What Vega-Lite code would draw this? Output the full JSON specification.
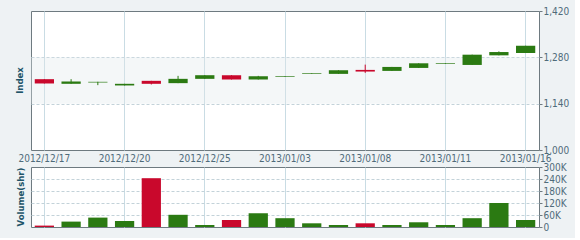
{
  "$schema": "https://vega.github.io/schema/vega-lite/v6.json",
  "background": "#eef2f4",
  "padding": {"left": 14, "top": 5, "right": 5, "bottom": 5},
  "spacing": -3,
  "datasets": {
    "k": [
      {"d": "2012/12/17", "o": 1214, "h": 1214, "l": 1201, "c": 1201, "v": 7000},
      {"d": "2012/12/18", "o": 1200, "h": 1214, "l": 1200, "c": 1207, "v": 27000},
      {"d": "2012/12/19", "o": 1204, "h": 1206, "l": 1196, "c": 1206, "v": 47000},
      {"d": "2012/12/20", "o": 1195, "h": 1200, "l": 1195, "c": 1200, "v": 30000},
      {"d": "2012/12/21", "o": 1209, "h": 1209, "l": 1198, "c": 1200, "v": 244000},
      {"d": "2012/12/24", "o": 1202, "h": 1224, "l": 1202, "c": 1215, "v": 61000},
      {"d": "2012/12/25", "o": 1215, "h": 1226, "l": 1215, "c": 1226, "v": 10000},
      {"d": "2012/12/26", "o": 1226, "h": 1226, "l": 1213, "c": 1213, "v": 35000},
      {"d": "2012/12/27", "o": 1213, "h": 1224, "l": 1213, "c": 1223, "v": 69000},
      {"d": "2013/01/03", "o": 1221, "h": 1223, "l": 1221, "c": 1223, "v": 44000},
      {"d": "2013/01/04", "o": 1230, "h": 1232, "l": 1230, "c": 1232, "v": 18500},
      {"d": "2013/01/07", "o": 1230, "h": 1241, "l": 1230, "c": 1241, "v": 10000},
      {"d": "2013/01/08", "o": 1242, "h": 1258, "l": 1233, "c": 1237, "v": 18500},
      {"d": "2013/01/09", "o": 1239, "h": 1251, "l": 1239, "c": 1251, "v": 10000},
      {"d": "2013/01/10", "o": 1248, "h": 1262, "l": 1248, "c": 1262, "v": 23600},
      {"d": "2013/01/11", "o": 1260, "h": 1262, "l": 1260, "c": 1262, "v": 10000},
      {"d": "2013/01/14", "o": 1257, "h": 1288, "l": 1257, "c": 1288, "v": 44000},
      {"d": "2013/01/15", "o": 1286, "h": 1298, "l": 1286, "c": 1296, "v": 120000},
      {"d": "2013/01/16", "o": 1293, "h": 1315, "l": 1293, "c": 1315, "v": 35000}
    ],
    "band": [{"lo": 1140, "hi": 1280}]
  },
  "config": {
    "view": {"stroke": "#6e7a80", "strokeWidth": 1, "fill": "#ffffff"},
    "font": "DejaVu Sans Condensed",
    "axis": {
      "labelFont": "DejaVu Sans Condensed",
      "labelFontSize": 10,
      "labelColor": "#4f6b7a",
      "domain": false,
      "ticks": false,
      "gridColor": "#c9dce4",
      "gridOpacity": 1
    },
    "title": {"font": "DejaVu Sans Condensed", "fontSize": 9.5, "fontWeight": "bold", "color": "#1f5569"}
  },
  "vconcat": [
    {
      "width": 508,
      "height": 139,
      "title": {"text": "Index", "orient": "left", "anchor": "middle", "offset": -7},
      "layer": [
        {
          "data": {"name": "band"},
          "mark": {"type": "rect", "fill": "#dfe7eb", "opacity": 0.35},
          "encoding": {
            "y": {"field": "lo", "type": "quantitative", "scale": {"domain": [1000, 1420], "nice": false, "zero": false}},
            "y2": {"field": "hi"}
          }
        },
        {
          "data": {"name": "k"},
          "mark": {"type": "rule", "strokeWidth": 1},
          "encoding": {
            "x": {
              "field": "d", "type": "ordinal", "sort": null,
              "scale": {"type": "band", "paddingInner": 0, "paddingOuter": 0},
              "axis": {
                "values": ["2012/12/17", "2012/12/20", "2012/12/25", "2013/01/03", "2013/01/08", "2013/01/11", "2013/01/16"],
                "title": null, "labelAngle": 0, "grid": true, "bandPosition": 0.5, "labelPadding": 3, "orient": "bottom"
              }
            },
            "y": {
              "field": "l", "type": "quantitative",
              "axis": {
                "orient": "right", "values": [1000, 1140, 1280, 1420], "format": ",d", "title": null,
                "grid": true, "gridDash": [3, 2], "gridColor": "#c3d2d9",
                "gridOpacity": {"condition": {"test": "datum.value === 1000 || datum.value === 1420", "value": 0}, "value": 1},
                "ticks": true, "tickSize": 3, "tickColor": "#6e7a80", "labelPadding": 1
              }
            },
            "y2": {"field": "h"},
            "color": {"condition": {"test": "datum.c >= datum.o", "value": "#2b7a12"}, "value": "#c9082c"}
          }
        },
        {
          "data": {"name": "k"},
          "mark": {"type": "bar", "width": {"band": 0.72}},
          "encoding": {
            "x": {"field": "d", "type": "ordinal", "sort": null},
            "y": {"field": "o", "type": "quantitative"},
            "y2": {"field": "c"},
            "color": {"condition": {"test": "datum.c >= datum.o", "value": "#2b7a12"}, "value": "#c9082c"}
          }
        }
      ]
    },
    {
      "width": 508,
      "height": 60,
      "title": {"text": "Volume(shr)", "orient": "left", "anchor": "middle", "offset": 6},
      "data": {"name": "k"},
      "mark": {"type": "bar", "width": {"band": 0.72}},
      "encoding": {
        "x": {
          "field": "d", "type": "ordinal", "sort": null,
          "scale": {"type": "band", "paddingInner": 0, "paddingOuter": 0},
          "axis": {
            "values": ["2012/12/17", "2012/12/20", "2012/12/25", "2013/01/03", "2013/01/08", "2013/01/11", "2013/01/16"],
            "title": null, "labels": false, "grid": true, "bandPosition": 0.5
          }
        },
        "y": {
          "field": "v", "type": "quantitative",
          "scale": {"domain": [0, 300000], "nice": false},
          "axis": {
            "orient": "right", "values": [0, 60000, 120000, 180000, 240000, 300000], "title": null,
            "labelExpr": "datum.value === 0 ? '0' : (datum.value / 1000) + 'K'",
            "grid": true, "gridDash": [3, 2], "gridColor": "#c3d2d9",
            "gridOpacity": {"condition": {"test": "datum.value === 0 || datum.value === 300000", "value": 0}, "value": 1},
            "ticks": true, "tickSize": 3, "tickColor": "#6e7a80", "labelPadding": 1
          }
        },
        "color": {"condition": {"test": "datum.c >= datum.o", "value": "#2b7a12"}, "value": "#c9082c"}
      }
    }
  ]
}
